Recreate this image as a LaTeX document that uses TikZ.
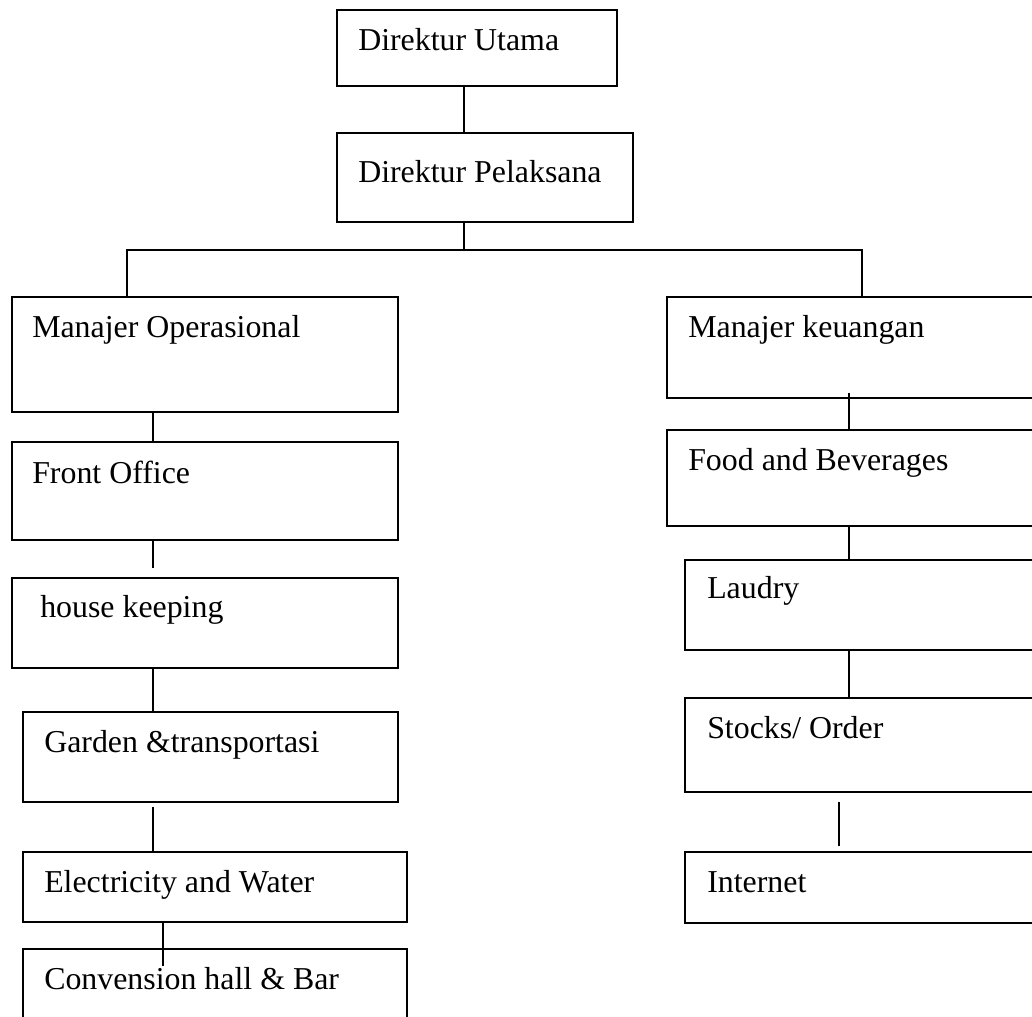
\documentclass[tikz,border=0pt]{standalone}
\usepackage{fontspec}
\setmainfont{Liberation Serif}
\usetikzlibrary{fit}
\begin{document}
\begin{tikzpicture}[x=0.75pt,y=-0.75pt,
  orgbox/.style={draw=black,line width=1pt,inner sep=0pt,rectangle},
  lbl/.style={anchor=base west,inner sep=0pt,font=\fontsize{23.9pt}{28pt}\selectfont},
  conn/.style={draw=black,line width=1pt}]
\useasboundingbox (0,0) rectangle (1032,1017);
\clip (0,0) rectangle (1032,1017);
% column coordinates
\coordinate (cA) at (464,0);
\coordinate (cL) at (153,0);
\coordinate (cL2) at (163,0);
\coordinate (cR) at (849,0);
\coordinate (cR2) at (839,0);
\coordinate (cLb) at (127,0);
\coordinate (cRb) at (862,0);
% boxes
\node[orgbox,fit={(337,10)(617,86)}] (du) {};
\node[lbl] (tdu) at (358,50) {Direktur Utama};
\node[orgbox,fit={(337,133)(633,222)}] (dp) {};
\node[lbl] (tdp) at (358,182) {Direktur Pelaksana};
\node[orgbox,fit={(12,297)(398,412)}] (mo) {};
\node[lbl] (tmo) at (32,337) {Manajer Operasional};
\node[orgbox,fit={(667,297)(1045,398)}] (mk) {};
\node[lbl] (tmk) at (688,337) {Manajer keuangan};
\node[orgbox,fit={(12,442)(398,540)}] (fo) {};
\node[lbl] (tfo) at (32,483) {Front Office};
\node[orgbox,fit={(12,578)(398,668)}] (hk) {};
\node[lbl] (thk) at (40,617) {house keeping};
\node[orgbox,fit={(23,712)(398,802)}] (gt) {};
\node[lbl] (tgt) at (44,752) {Garden \&transportasi};
\node[orgbox,fit={(23,852)(407,922)}] (ew) {};
\node[lbl] (tew) at (44,892) {Electricity and Water};
\node[orgbox,fit={(23,949)(407,1045)}] (ch) {};
\node[lbl] (tch) at (44,989) {Convension hall \& Bar};
\node[orgbox,fit={(667,430)(1045,526)}] (fb) {};
\node[lbl] (tfb) at (688,470) {Food and Beverages};
\node[orgbox,fit={(685,560)(1045,650)}] (la) {};
\node[lbl] (tla) at (707,598) {Laudry};
\node[orgbox,fit={(685,698)(1045,792)}] (so) {};
\node[lbl] (tso) at (707,738) {Stocks/ Order};
\node[orgbox,fit={(685,852)(1045,923)}] (in) {};
\node[lbl] (tin) at (707,892) {Internet};
% free-end coordinates
\coordinate (bus) at (0,250);
\coordinate (hkend) at (153,568);
\coordinate (gtstart) at (153,807);
\coordinate (chend) at (163,966);
\coordinate (mkstart) at (849,393);
\coordinate (sostart) at (839,802);
\coordinate (inend) at (839,846);
% connectors
\draw[conn] (du.south -| cA) -- (dp.north -| cA);
\draw[conn] (dp.south -| cA) -- (bus -| cA);
\draw[conn] (mo.north -| cLb) -- (bus -| cLb) -- (bus -| cRb) -- (mk.north -| cRb);
\draw[conn] (mo.south -| cL) -- (fo.north -| cL);
\draw[conn] (fo.south -| cL) -- (hkend);
\draw[conn] (hk.south -| cL) -- (gt.north -| cL);
\draw[conn] (gtstart) -- (ew.north -| cL);
\draw[conn] (ew.south -| cL2) -- (chend);
\draw[conn] (mkstart) -- (fb.north -| cR);
\draw[conn] (fb.south -| cR) -- (la.north -| cR);
\draw[conn] (la.south -| cR) -- (so.north -| cR);
\draw[conn] (sostart) -- (inend);
\end{tikzpicture}
\end{document}
